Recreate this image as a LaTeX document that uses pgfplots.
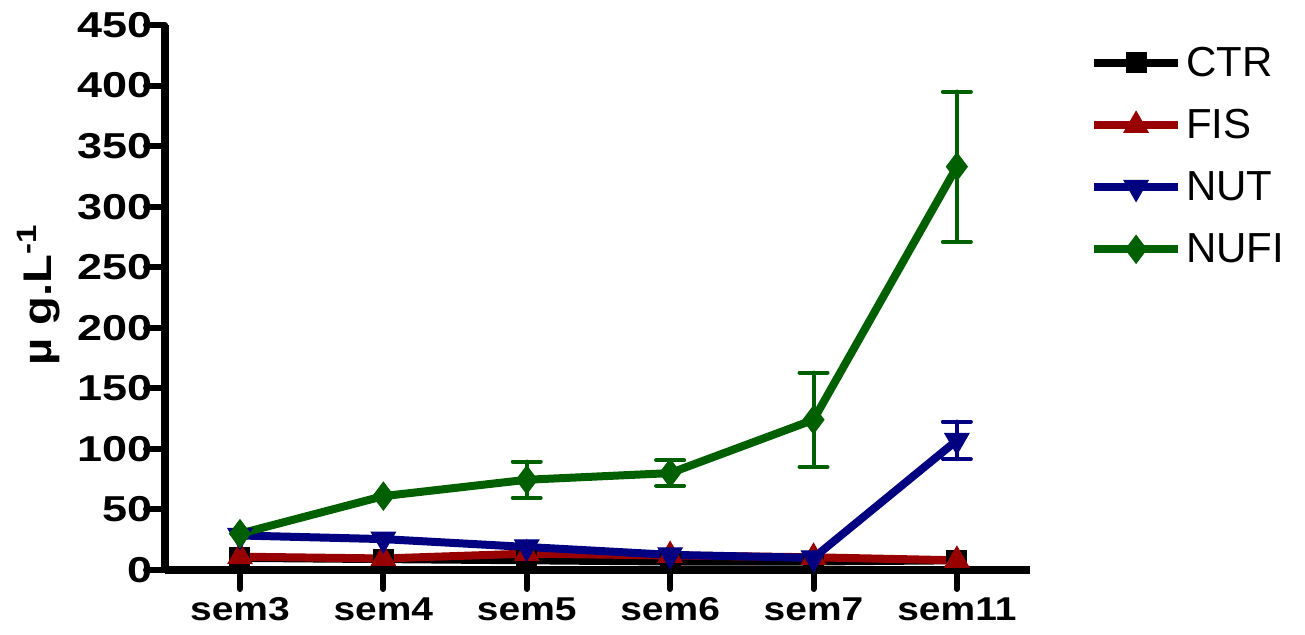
\documentclass[border=0pt]{standalone}
\usepackage{pgfplots}
\pgfplotsset{compat=1.18}
\usepackage{pgfplotstable}
\usepackage{fontspec}
\setmainfont{Liberation Sans}
\newfontfamily\tickfont{Liberation Sans}[FakeStretch=1.18]
\newfontfamily\ytickfont{Liberation Sans}[FakeStretch=1.25]
\definecolor{cred}{RGB}{153,0,0}
\definecolor{cblue}{RGB}{0,0,128}
\definecolor{cgreen}{RGB}{0,96,0}

\pgfplotstableread{
x y
0 10
1 9
2 8
3 7
4 7
5 8
}\ctr
\pgfplotstableread{
x y
0 11
1 9.5
2 13.5
3 12
4 10.5
5 8
}\fis
\pgfplotstableread{
x y
0 28.5
1 25.5
2 19
3 12.5
4 10
5 107
}\nut
\pgfplotstableread{
x y e
5 107 15.5
}\nuterr
\pgfplotstableread{
x y
0 30
1 61
2 74.5
3 80
4 124
5 333
}\nufi
\pgfplotstableread{
x y e
2 74.5 15
3 80 10.5
4 124 39
5 333 62
}\nufierr

\begin{document}
\begin{tikzpicture}
\useasboundingbox (0,0) rectangle (652.5pt,317.5pt);
\begin{axis}[
  at={(82.5pt,32.5pt)}, anchor=south west,
  width=432.5pt, height=272.5pt, scale only axis,
  xmin=-0.523, xmax=5.51,
  ymin=0, ymax=450,
  axis lines=left,
  axis line style={-, line width=4pt, black},
  xtick={0,1,2,3,4,5},
  xticklabels={sem3,sem4,sem5,sem6,sem7,sem11},
  ytick={0,50,100,150,200,250,300,350,400,450},
  tick align=outside,
  major tick length=9.5pt,
  tick style={line width=3pt, black, line cap=round},
  /pgf/number format/assume math mode=true,
  yticklabel style={font=\ytickfont\bfseries\fontsize{18}{18}\selectfont, inner sep=1pt, xshift=4.5pt},
  xticklabel style={font=\tickfont\bfseries\fontsize{16.5}{16.5}\selectfont, inner sep=1pt, yshift=-3pt},
  every axis y label/.style={at={(axis description cs:-0.146,0.505)}, rotate=90, anchor=center},
  ylabel={\tickfont\bfseries\fontsize{20}{20}\selectfont µ g.L\textsuperscript{-1}},
  clip=false,
  legend style={at={(axis description cs:1.069,0.968)}, anchor=north west, draw=none, fill=none,
    font=\fontsize{21}{21}\selectfont, row sep=11pt, inner sep=0pt,
    nodes={inner sep=2pt}},
  legend cell align=left,
  legend image code/.code={
    \draw[mark repeat=2,mark phase=2,#1] plot coordinates {(0pt,0pt) (21pt,0pt) (42pt,0pt)};
  },
]
\addplot[black, line width=4pt, mark=square*, mark size=5pt, mark options={line width=0.5pt}] table[x=x,y=y]{\ctr};
\addlegendentry{CTR}
\addplot[cred, line width=4pt, mark=triangle*, mark size=7pt, mark options={line width=0.5pt}] table[x=x,y=y]{\fis};
\addlegendentry{FIS}
\addplot[cblue, forget plot, draw=none, mark=none,
  error bars/.cd, y dir=both, y explicit,
  error bar style={draw=cblue, line width=2pt, line cap=round},
  error mark options={rotate=90, mark size=7pt, line width=2pt, draw=cblue, line cap=round}]
  table[x=x,y=y,y error=e]{\nuterr};
\addplot[cblue, line width=4pt, mark=triangle*, mark size=7pt, mark options={rotate=180, line width=0.5pt}] table[x=x,y=y]{\nut};
\addlegendentry{NUT}
\addplot[cgreen, forget plot, draw=none, mark=none,
  error bars/.cd, y dir=both, y explicit,
  error bar style={draw=cgreen, line width=2pt, line cap=round},
  error mark options={rotate=90, mark size=7pt, line width=2pt, draw=cgreen, line cap=round}]
  table[x=x,y=y,y error=e]{\nufierr};
\addplot[cgreen, line width=4pt, mark=diamond*, mark size=7pt, mark options={line width=0.5pt}] table[x=x,y=y]{\nufi};
\addlegendentry{NUFI}
\end{axis}
\end{tikzpicture}
\end{document}
